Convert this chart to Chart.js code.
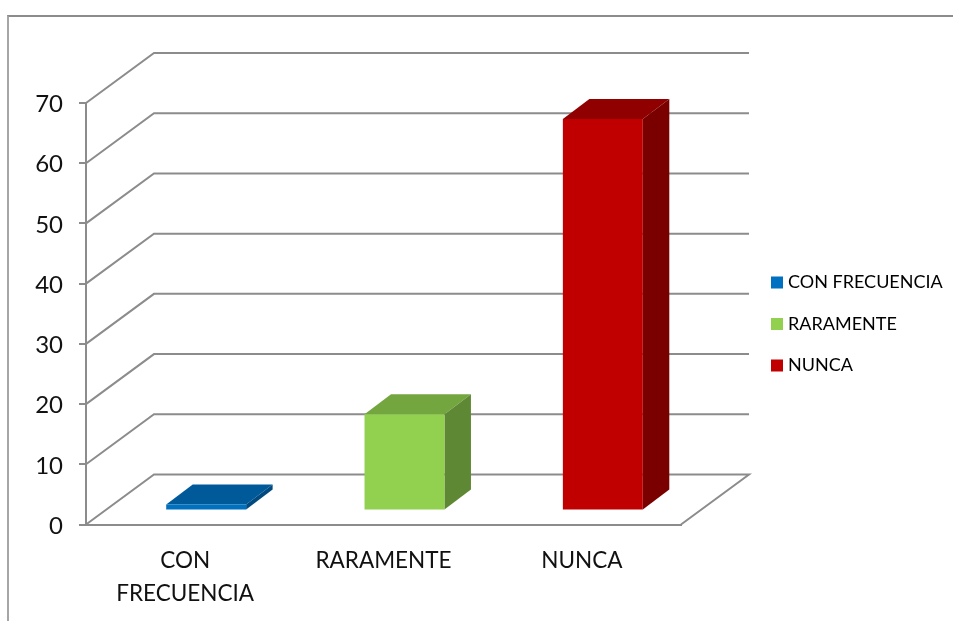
<!DOCTYPE html>
<html lang="es">
<head>
    <meta charset="UTF-8">
    <title>Frecuencia</title>
    <style>
        html, body { margin: 0; padding: 0; background: #fff; overflow: hidden; }
        #frame {
            position: absolute; left: 7px; top: 15px; width: 960px; height: 620px;
            border-top: 2px solid #8c8c8c; border-left: 2px solid #a6a6a6;
        }
        canvas { position: absolute; left: 0; top: 0; }
    </style>
    <script src="https://cdn.jsdelivr.net/npm/chart.js"></script>
</head>
<body>
    <div id="frame"></div>
    <canvas id="chart" width="953" height="621"></canvas>
    <script>
        const categories = ['CON FRECUENCIA', 'RARAMENTE', 'NUNCA'];
        const tickLabels = [['CON', 'FRECUENCIA'], 'RARAMENTE', 'NUNCA'];
        const values = [1, 16, 65];
        const yTicks = [0, 10, 20, 30, 40, 50, 60, 70];
        const frontColors = ['#0070C0', '#92D050', '#C00000'];
        const topColors = ['#005A9A', '#74A640', '#900000'];
        const sideColors = ['#004A80', '#5F8834', '#7A0000'];

        const gridColor = '#8c8c8c';
        const fontName = 'Lato, Carlito, Calibri, sans-serif';

        // fake 3d: wall depth, bar offset on the floor, bar depth
        const wall = { dx: 68, dy: -50 };
        const barShift = { dx: 21, dy: -14 };
        const barDepth = { dx: 26.5, dy: -20 };

        const plugin3d = {
            id: 'plugin3d',
            afterLayout(chart) {
                // legend sits in the blank strip on the right
                const lg = chart.legend;
                lg.left = 751.5;
                lg.right = 950;
                lg.top = 250;
                lg.bottom = 480;
            },
            beforeDatasetsDraw(chart) {
                const ctx = chart.ctx;
                const yScale = chart.scales.y;
                const area = chart.chartArea;

                ctx.save();
                ctx.strokeStyle = gridColor;
                ctx.lineWidth = 2;
                yTicks.forEach(v => {
                    const y = yScale.getPixelForValue(v);
                    ctx.beginPath();
                    ctx.moveTo(area.left, y);
                    ctx.lineTo(area.left + wall.dx, y + wall.dy);
                    ctx.lineTo(area.right + wall.dx, y + wall.dy);
                    if (v === 0) ctx.lineTo(area.right, y);
                    ctx.stroke();
                });
                ctx.restore();

                ctx.save();
                ctx.translate(barShift.dx, barShift.dy);
                chart.getDatasetMeta(0).data.forEach((bar, i) => {
                    const l = bar.x - bar.width / 2;
                    const r = bar.x + bar.width / 2;
                    ctx.fillStyle = topColors[i];
                    ctx.beginPath();
                    ctx.moveTo(l, bar.y);
                    ctx.lineTo(l + barDepth.dx, bar.y + barDepth.dy);
                    ctx.lineTo(r + barDepth.dx, bar.y + barDepth.dy);
                    ctx.lineTo(r, bar.y);
                    ctx.fill();
                    ctx.fillStyle = sideColors[i];
                    ctx.beginPath();
                    ctx.moveTo(r, bar.y);
                    ctx.lineTo(r + barDepth.dx, bar.y + barDepth.dy);
                    ctx.lineTo(r + barDepth.dx, bar.base + barDepth.dy);
                    ctx.lineTo(r, bar.base);
                    ctx.fill();
                });
            },
            afterDatasetsDraw(chart) {
                chart.ctx.restore();
            }
        };

        new Chart(document.getElementById('chart'), {
            type: 'bar',
            data: {
                labels: tickLabels,
                datasets: [{
                    data: values,
                    backgroundColor: frontColors,
                    categoryPercentage: 1,
                    barPercentage: 0.403,
                    clip: false
                }]
            },
            plugins: [plugin3d],
            options: {
                responsive: false,
                animation: false,
                layout: { padding: { top: 103, right: 272, bottom: 0, left: 0 } },
                plugins: {
                    title: { display: false },
                    tooltip: { enabled: false },
                    legend: {
                        position: 'chartArea',
                        align: 'start',
                        labels: {
                            color: '#111',
                            font: { family: fontName, size: 18 },
                            boxWidth: 4,
                            boxHeight: 4,
                            padding: 23.5,
                            generateLabels: () => categories.map((c, i) => ({
                                text: c,
                                fillStyle: frontColors[i],
                                strokeStyle: frontColors[i],
                                lineWidth: 8,
                                index: i
                            }))
                        }
                    }
                },
                scales: {
                    x: {
                        afterFit(scale) { scale.height = 96.5; },
                        grid: { display: false },
                        border: { color: gridColor, width: 2 },
                        ticks: {
                            color: '#111',
                            font: { family: fontName, size: 22.5, lineHeight: 1.5 },
                            padding: 11,
                            maxRotation: 0
                        }
                    },
                    y: {
                        min: 0,
                        max: 70,
                        afterFit(scale) { scale.width = 86; },
                        afterBuildTicks(scale) { scale.ticks = yTicks.map(v => ({ value: v })); },
                        grid: { drawOnChartArea: false, color: gridColor, lineWidth: 2, tickLength: 7 },
                        border: { color: gridColor, width: 2 },
                        ticks: {
                            color: '#111',
                            font: { family: fontName, size: 24 },
                            padding: 16,
                            labelOffset: 1.5
                        }
                    }
                }
            }
        });
    </script>
</body>
</html>
